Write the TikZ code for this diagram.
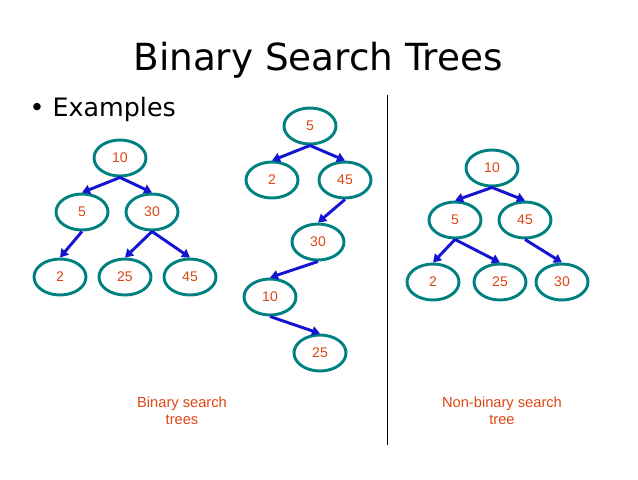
\documentclass[tikz,border=0pt]{standalone}
\usepackage{fontspec}
\setmainfont{DejaVu Sans}
\newfontfamily\labfont{Liberation Sans}
\usetikzlibrary{shapes.geometric,arrows.meta}
\definecolor{tealc}{RGB}{0,128,128}
\definecolor{lab}{RGB}{220,70,20}
\definecolor{arr}{RGB}{20,20,210}
\tikzset{
 bn/.style={ellipse,draw=tealc,line width=2.2pt,minimum width=39pt,minimum height=27pt,inner sep=0pt,text=lab,font=\labfont\fontsize{10.5}{12}\selectfont},
 ed/.style={draw=arr,line width=2.2pt,-{Triangle[length=6pt,width=7pt]}},
 captext/.style={text=lab,align=center,font=\labfont\fontsize{11}{13}\selectfont}
}
\begin{document}
\begin{tikzpicture}[x=0.75pt,y=-0.75pt]
\useasboundingbox (0,0) rectangle (638,479);
\node (title) at (318,60) {\fontsize{28}{32}\selectfont Binary Search Trees};
\node[anchor=west] (ex) at (25,110) {\fontsize{19}{22}\selectfont • Examples};
\coordinate (vt) at (387,95); \coordinate (vb) at (387,445);
\draw[line width=0.6pt] (vt) -- (vb);
% tree 1
\node[bn] (a10) at (120,158) {10};
\node[bn] (a5) at (82,212) {5};
\node[bn] (a30) at (152,212) {30};
\node[bn] (a2) at (60,277) {2};
\node[bn] (a25) at (125,277) {25};
\node[bn] (a45) at (190,277) {45};
\draw[ed] (a10.south) -- (a5.north);
\draw[ed] (a10.south) -- (a30.north);
\draw[ed] (a5.south) -- (a2.north);
\draw[ed] (a30.south) -- (a25.north);
\draw[ed] (a30.south) -- (a45.north);
% tree 2
\node[bn] (b5) at (310,126) {5};
\node[bn] (b2) at (272,180) {2};
\node[bn] (b45) at (345,180) {45};
\node[bn] (b30) at (318,242) {30};
\node[bn] (b10) at (270,297) {10};
\node[bn] (b25) at (320,353) {25};
\draw[ed] (b5.south) -- (b2.north);
\draw[ed] (b5.south) -- (b45.north);
\draw[ed] (b45.south) -- (b30.north);
\draw[ed] (b30.south) -- (b10.north);
\draw[ed] (b10.south) -- (b25.north);
% tree 3
\node[bn] (c10) at (492,168) {10};
\node[bn] (c5) at (455,220) {5};
\node[bn] (c45) at (525,220) {45};
\node[bn] (c2) at (433,282) {2};
\node[bn] (c25) at (500,282) {25};
\node[bn] (c30) at (562,282) {30};
\draw[ed] (c10.south) -- (c5.north);
\draw[ed] (c10.south) -- (c45.north);
\draw[ed] (c5.south) -- (c2.north);
\draw[ed] (c5.south) -- (c25.north);
\draw[ed] (c45.south) -- (c30.north);
\node[captext] (l1) at (182,411) {Binary search\\trees};
\node[captext] (l2) at (502,411) {Non-binary search\\tree};
\end{tikzpicture}
\end{document}
